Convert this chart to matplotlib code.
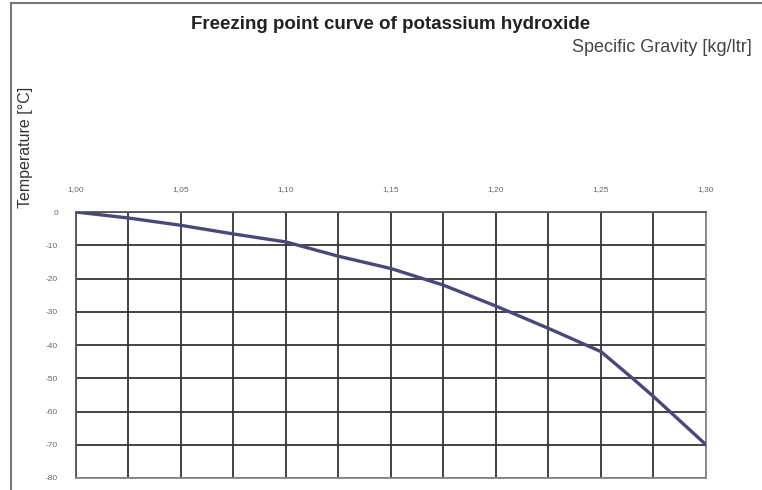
import matplotlib.pyplot as plt
from matplotlib.lines import Line2D
from matplotlib.ticker import FuncFormatter, MultipleLocator

# specific gravity [kg/ltr] vs freezing point [°C]
gravity = [1.000, 1.025, 1.050, 1.075, 1.100, 1.125, 1.150, 1.175,
           1.200, 1.225, 1.250, 1.265, 1.275, 1.300]
temperature = [0, -1.8, -4, -6.6, -9, -13.3, -17, -22,
               -28.3, -35, -42, -50, -55.5, -70]

x_ticks = [1.00, 1.05, 1.10, 1.15, 1.20, 1.25, 1.30]
y_ticks = [0, -10, -20, -30, -40, -50, -60, -70, -80]

plt.rcParams["font.family"] = ["Liberation Sans", "DejaVu Sans"]
plt.rcParams["axes.unicode_minus"] = False

fig = plt.figure(figsize=(7.62, 4.9), dpi=100)
ax = fig.add_axes([0.0997, 0.0245, 0.8268, 0.5428])

ax.plot(gravity, temperature, color="#4a4878", lw=2.4, solid_joinstyle="round",
        zorder=3)

ax.set_xlim(1.00, 1.30)
ax.set_ylim(-80, 0)
ax.xaxis.tick_top()
ax.set_xticks(x_ticks)
ax.xaxis.set_minor_locator(MultipleLocator(0.025))
ax.set_yticks(y_ticks)
ax.xaxis.set_major_formatter(FuncFormatter(lambda v, _: f"{v:.2f}".replace(".", ",")))
ax.tick_params(axis="both", which="both", length=0, labelsize=6,
               labelcolor="#666666")
ax.tick_params(axis="x", pad=14)
ax.tick_params(axis="y", pad=13)

ax.grid(True, which="both", color="#333333", lw=1.3)
for s in ax.spines.values():
    s.set_color("#555555")
    s.set_linewidth(1.3)
ax.spines["right"].set_color("#888888")
ax.spines["bottom"].set_color("#888888")

fig.text(0.512, 0.941, "Freezing point curve of potassium hydroxide",
         ha="center", va="baseline", fontsize=13.5, fontweight="bold",
         color="#222222")
fig.text(0.987, 0.894, "Specific Gravity [kg/ltr]", ha="right", va="baseline",
         fontsize=13, color="#444444")
fig.text(0.033, 0.699, "Temperature [°C]", ha="center", va="center",
         rotation=90, fontsize=11.5, color="#333333")

# outer chart frame (cropped on the right and bottom)
fig.add_artist(Line2D([0.014, 1.0], [0.994, 0.994], transform=fig.transFigure,
                      color="#777777", lw=1.5))
fig.add_artist(Line2D([0.014, 0.014], [0.0, 0.994], transform=fig.transFigure,
                      color="#777777", lw=1.5))

fig.savefig("out.png", dpi=100)
